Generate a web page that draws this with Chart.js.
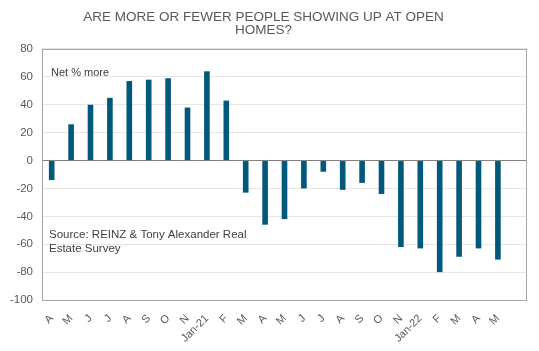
<!DOCTYPE html>
<html>
<head>
<meta charset="utf-8">
<title>Open homes</title>
<script src="https://cdn.jsdelivr.net/npm/chart.js@4"></script>
<style>
  html, body { margin: 0; padding: 0; background: #fff; }
  #wrap { width: 539px; height: 351px; }
</style>
</head>
<body>
<div id="wrap"><canvas id="grafico" width="539" height="351"></canvas></div>
<script>
// data (Apr 2020 .. May 2022, last slot empty)
const meses = ['A', 'M', 'J', 'J', 'A', 'S', 'O', 'N', 'Jan-21', 'F', 'M', 'A', 'M', 'J', 'J', 'A', 'S', 'O', 'N', 'Jan-22', 'F', 'M', 'A', 'M', ''];
const netMore = [-14, 26, 40, 45, 57, 58, 59, 38, 64, 43, -23, -46, -42, -20, -8, -21, -16, -24, -62, -63, -80, -69, -63, -71, null];
const yTicks = [80, 60, 40, 20, 0, -20, -40, -60, -80, -100];

const tituloLinhas = ['ARE MORE OR FEWER PEOPLE SHOWING UP AT OPEN', 'HOMES?'];
const notaSerie = 'Net % more';
const notaFonte = ['Source: REINZ & Tony Alexander Real', 'Estate Survey'];

const cinza = '#595959';
const azul = '#00587a';
const fonte = 'Liberation Sans, Arial, sans-serif';

// ─── plot frame + text notes ────────────────────────────────────────────────
const molduraPlugin = {
  id: 'moldura',
  afterDraw(chart) {
    const { ctx, chartArea: a, scales: { y } } = chart;
    ctx.save();
    ctx.strokeStyle = '#a6a6a6';
    ctx.lineWidth = 1;
    ctx.strokeRect(a.left + 0.5, a.top + 0.5, a.right - a.left - 1, a.bottom - a.top);

    ctx.fillStyle = '#404040';
    ctx.textBaseline = 'middle';
    ctx.textAlign = 'left';
    ctx.font = '11px ' + fonte;
    ctx.fillText(notaSerie, a.left + 9, y.getPixelForValue(63));
    ctx.font = '11.5px ' + fonte;
    ctx.fillText(notaFonte[0], a.left + 7, y.getPixelForValue(-53));
    ctx.fillText(notaFonte[1], a.left + 7, y.getPixelForValue(-63));
    ctx.restore();
  },
};

new Chart(document.getElementById('grafico'), {
  type: 'bar',
  plugins: [molduraPlugin],
  data: {
    labels: meses,
    datasets: [{
      label: notaSerie,
      data: netMore,
      backgroundColor: azul,
      borderWidth: 0,
      categoryPercentage: 1,
      barPercentage: 0.29,
    }],
  },
  options: {
    responsive: false,
    animation: false,
    devicePixelRatio: 1,
    layout: { padding: { left: 0, right: 12, top: 0, bottom: 0 } },
    plugins: {
      legend: { display: false },
      tooltip: { enabled: false },
      title: {
        display: true,
        text: tituloLinhas,
        color: cinza,
        font: { family: fonte, size: 13.5, weight: 'normal', lineHeight: 0.97 },
        padding: { top: 10.5, bottom: 12.3 },
      },
    },
    scales: {
      x: {
        grid: { display: false },
        border: { display: false },
        ticks: {
          color: cinza,
          font: { family: fonte, size: 11 },
          autoSkip: false,
          minRotation: 45,
          maxRotation: 45,
          padding: 4,
        },
        afterFit(scale) { scale.height = 51; },
      },
      y: {
        min: -100,
        max: 80,
        afterBuildTicks(scale) { scale.ticks = yTicks.map(v => ({ value: v })); },
        grid: {
          color: (c) => c.tick && c.tick.value === 0 ? '#808080' : '#e6e6e6',
          drawTicks: false,
        },
        border: { display: false },
        ticks: {
          color: cinza,
          font: { family: fonte, size: 11.5 },
          padding: 9,
        },
        afterFit(scale) { scale.width = 42; },
      },
    },
  },
});
</script>
</body>
</html>
